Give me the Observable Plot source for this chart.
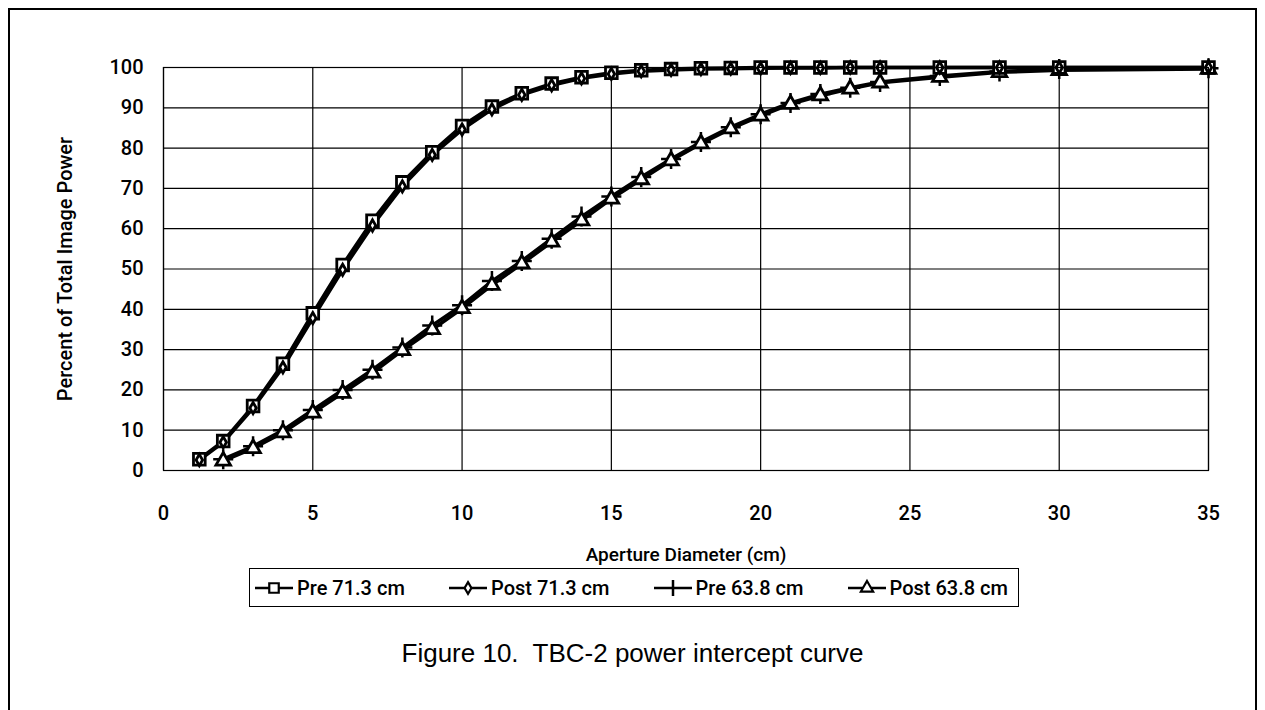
<!DOCTYPE html>
<html>
<head>
<meta charset="utf-8">
<script src="https://cdn.jsdelivr.net/npm/d3@7"></script>
<script src="https://cdn.jsdelivr.net/npm/@observablehq/plot@0.6"></script>
<style>
  html, body { margin: 0; padding: 0; background: #fff; }
  #wrap { position: relative; width: 1265px; height: 710px; overflow: hidden; background: #fff; }
  #outer { position: absolute; left: 8px; top: 8px; width: 1249px; height: 760px; border: 2px solid #000; box-sizing: border-box; }
  #chart { position: absolute; left: 0; top: 0; }
  #chart svg { background: transparent !important; overflow: visible; }
  .cond { font-family: Roboto, "Noto Sans", sans-serif; font-weight: 500; }
  #legend { position: absolute; left: 249px; top: 568px; width: 770px; height: 39px; border: 1.5px solid #000; box-sizing: border-box;
            display: flex; align-items: center; justify-content: space-between; padding: 0 10px 0 5px; font-size: 20px; color: #000; }
  .entry { display: flex; align-items: center; }
  .entry svg { margin-right: 4px; }
  #caption { position: absolute; left: 0; width: 1265px; top: 638px; text-align: center; font-family: "Liberation Sans", Arial, sans-serif;
             font-size: 26px; white-space: pre; color: #000; }
</style>
</head>
<body>
<div id="wrap">
  <div id="outer"></div>
  <div id="chart"></div>
  <div id="legend" class="cond"></div>
  <div id="caption">Figure 10.  TBC-2 power intercept curve</div>
</div>
<script>
// ---- data ----
const x71 = [1.2, 2, 3, 4, 5, 6, 7, 8, 9, 10, 11, 12, 13, 14, 15, 16, 17, 18, 19, 20, 21, 22, 23, 24, 26, 28, 30, 35];
const pre71 = [2.8, 7.3, 16, 26.5, 39, 51, 62, 71.5, 79, 85.5, 90.3, 93.6, 96, 97.6, 98.7, 99.3, 99.6, 99.8, 99.9, 100, 100, 100, 100, 100, 100, 100, 100, 100];
const post71 = [2.6, 7, 15.5, 25.6, 37.8, 49.8, 60.8, 70.5, 78.3, 84.6, 89.6, 93.2, 95.6, 97.3, 98.4, 99.1, 99.4, 99.6, 99.7, 99.8, 99.9, 99.9, 100, 100, 100, 100, 100, 100];
const x63 = [2, 3, 4, 5, 6, 7, 8, 9, 10, 11, 12, 13, 14, 15, 16, 17, 18, 19, 20, 21, 22, 23, 24, 26, 28, 30, 35];
const pre63 = [2.8, 6, 10, 15, 20, 25, 30.5, 36, 41, 47, 52, 57.5, 63, 68, 72.8, 77.3, 81.5, 85.2, 88.4, 91.2, 93.4, 95, 96.4, 97.9, 99, 99.6, 99.8];
const post63 = [2.4, 5.5, 9.4, 14.3, 19.2, 24.2, 29.8, 35, 40.2, 46, 51.3, 56.7, 62, 67.4, 72.2, 76.9, 81.1, 84.8, 88, 90.9, 93, 94.7, 96.2, 97.6, 98.8, 99.3, 99.6];
const seriesNames = ["Pre 71.3 cm", "Post 71.3 cm", "Pre 63.8 cm", "Post 63.8 cm"];
const xTicks = [0, 5, 10, 15, 20, 25, 30, 35];
const yTicks = [0, 10, 20, 30, 40, 50, 60, 70, 80, 90, 100];
const xLabel = "Aperture Diameter (cm)";
const yLabel = "Percent of Total Image Power";

const mk = (xs, ys) => xs.map((x, i) => ({x, y: ys[i]}));
const dPre71 = mk(x71, pre71), dPost71 = mk(x71, post71), dPre63 = mk(x63, pre63), dPost63 = mk(x63, post63);

const FONT = 'Roboto, "Noto Sans", sans-serif';

const plot = Plot.plot({
  width: 1265,
  height: 600,
  marginTop: 67,
  marginLeft: 163,
  marginRight: 57,
  marginBottom: 130,
  style: {background: "transparent", fontFamily: FONT, fontSize: "20px", fontWeight: 500, color: "#000", overflow: "visible"},
  x: {domain: [0, 35]},
  y: {domain: [0, 100]},
  marks: [
    Plot.ruleY(yTicks, {stroke: "#000", strokeWidth: 1.2}),
    Plot.ruleX(xTicks, {stroke: "#000", strokeWidth: 1.2}),
    Plot.axisX({ticks: xTicks, tickSize: 0, tickPadding: 35, fontSize: 20, fontFamily: FONT, label: null}),
    Plot.axisY({ticks: yTicks, tickSize: 0, tickPadding: 20, fontSize: 20, fontFamily: FONT, label: null}),
    Plot.text([xLabel], {frameAnchor: "bottom", dy: 90, fontSize: 19, fontFamily: FONT}),
    Plot.text([yLabel], {frameAnchor: "left", dx: -98, rotate: -90, textAnchor: "middle", fontSize: 20, fontFamily: FONT}),
    // 63.8 series
    Plot.line(dPre63, {x: "x", y: "y", stroke: "#000", strokeWidth: 3.5}),
    Plot.line(dPost63, {x: "x", y: "y", stroke: "#000", strokeWidth: 3.5}),
    Plot.dot(dPre63, {x: "x", y: "y", symbol: "plus", r: 6.5, stroke: "#000", strokeWidth: 2.5}),
    Plot.dot(dPost63, {x: "x", y: "y", symbol: "triangle", r: 5.4, fill: "#fff", stroke: "#000", strokeWidth: 2.8}),
    // 71.3 series
    Plot.line(dPre71, {x: "x", y: "y", stroke: "#000", strokeWidth: 3.5}),
    Plot.line(dPost71, {x: "x", y: "y", stroke: "#000", strokeWidth: 3.5}),
    Plot.dot(dPre71, {x: "x", y: "y", symbol: "square", r: 6.6, fill: "#fff", stroke: "#000", strokeWidth: 2.8}),
    Plot.dot(dPost71, {x: "x", y: "y", symbol: "diamond", r: 3.4, fill: "#fff", stroke: "#000", strokeWidth: 2.8}),
    Plot.frame({stroke: "#000", strokeWidth: 1.2})
  ]
});
document.getElementById("chart").appendChild(plot);

// ---- legend ----
const symbols = [d3.symbolSquare, d3.symbolDiamond, null, d3.symbolTriangle];
const sizes = [90, 40, 0, 65];
const legend = d3.select("#legend");
seriesNames.forEach((name, i) => {
  const e = legend.append("div").attr("class", "entry");
  const s = e.append("svg").attr("width", 38).attr("height", 22);
  s.append("line").attr("x1", 0).attr("x2", 38).attr("y1", 11).attr("y2", 11).attr("stroke", "#000").attr("stroke-width", 2.5);
  if (symbols[i]) {
    s.append("path").attr("transform", "translate(19,11)").attr("d", d3.symbol(symbols[i], sizes[i])())
      .attr("fill", "#fff").attr("stroke", "#000").attr("stroke-width", 2.2);
  } else {
    s.append("line").attr("x1", 19).attr("x2", 19).attr("y1", 3).attr("y2", 19).attr("stroke", "#000").attr("stroke-width", 2.5);
  }
  e.append("span").text(name);
});
</script>
</body>
</html>
